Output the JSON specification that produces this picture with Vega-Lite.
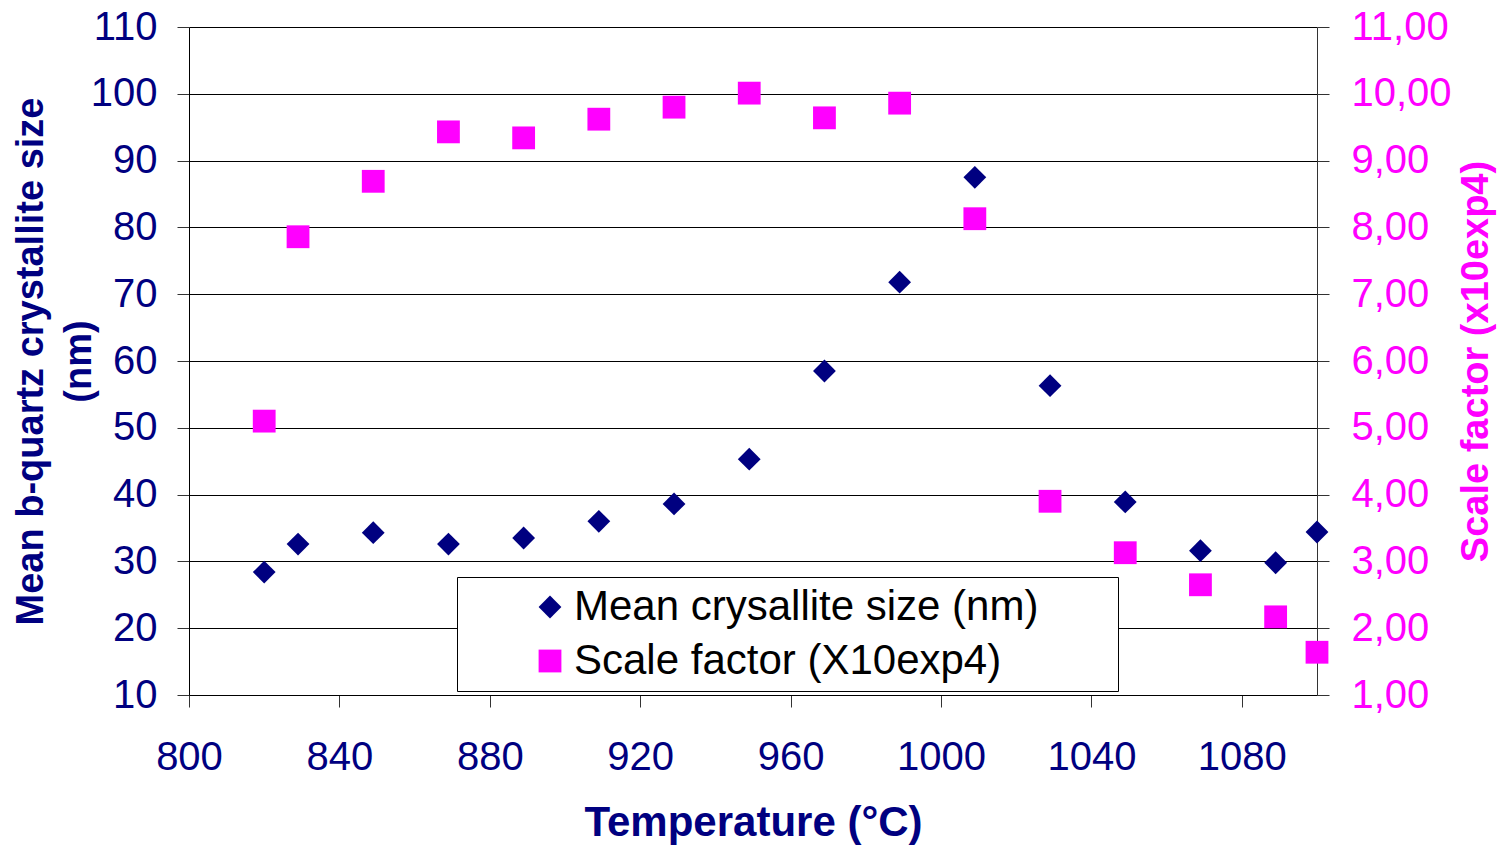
{
  "$schema": "https://vega.github.io/schema/vega-lite/v6.json",
  "width": 1128,
  "height": 668,
  "autosize": {"type": "none"},
  "padding": {"left": 189, "top": 27, "right": 184, "bottom": 152},
  "background": "white",
  "config": {
    "view": {"stroke": null},
    "font": "Liberation Sans",
    "axis": {"labelFont": "Liberation Sans", "titleFont": "Liberation Sans"},
    "legend": {
      "orient": "none",
      "legendX": 268,
      "legendY": 550,
      "fillColor": "white",
      "strokeColor": "black",
      "padding": 9,
      "symbolOffset": 63,
      "labelOffset": 3,
      "labelFontSize": 42,
      "labelFont": "Liberation Sans",
      "labelColor": "black",
      "labelLimit": 1000,
      "symbolSize": 520,
      "symbolStrokeWidth": 0,
      "rowPadding": 12
    }
  },
  "data": {
    "values": [
      {"temp": 820, "series": "Mean crysallite size (nm)", "value": 28.4},
      {"temp": 829, "series": "Mean crysallite size (nm)", "value": 32.6},
      {"temp": 849, "series": "Mean crysallite size (nm)", "value": 34.3},
      {"temp": 869, "series": "Mean crysallite size (nm)", "value": 32.6},
      {"temp": 889, "series": "Mean crysallite size (nm)", "value": 33.5},
      {"temp": 909, "series": "Mean crysallite size (nm)", "value": 36.0},
      {"temp": 929, "series": "Mean crysallite size (nm)", "value": 38.6},
      {"temp": 949, "series": "Mean crysallite size (nm)", "value": 45.3},
      {"temp": 969, "series": "Mean crysallite size (nm)", "value": 58.5},
      {"temp": 989, "series": "Mean crysallite size (nm)", "value": 71.8},
      {"temp": 1009, "series": "Mean crysallite size (nm)", "value": 87.5},
      {"temp": 1029, "series": "Mean crysallite size (nm)", "value": 56.3},
      {"temp": 1049, "series": "Mean crysallite size (nm)", "value": 38.9},
      {"temp": 1069, "series": "Mean crysallite size (nm)", "value": 31.6},
      {"temp": 1089, "series": "Mean crysallite size (nm)", "value": 29.8},
      {"temp": 1100, "series": "Mean crysallite size (nm)", "value": 34.4},
      {"temp": 820, "series": "Scale factor (X10exp4)", "value": 5.10},
      {"temp": 829, "series": "Scale factor (X10exp4)", "value": 7.86},
      {"temp": 849, "series": "Scale factor (X10exp4)", "value": 8.69},
      {"temp": 869, "series": "Scale factor (X10exp4)", "value": 9.43},
      {"temp": 889, "series": "Scale factor (X10exp4)", "value": 9.34},
      {"temp": 909, "series": "Scale factor (X10exp4)", "value": 9.62},
      {"temp": 929, "series": "Scale factor (X10exp4)", "value": 9.80},
      {"temp": 949, "series": "Scale factor (X10exp4)", "value": 10.01},
      {"temp": 969, "series": "Scale factor (X10exp4)", "value": 9.64},
      {"temp": 989, "series": "Scale factor (X10exp4)", "value": 9.86},
      {"temp": 1009, "series": "Scale factor (X10exp4)", "value": 8.13},
      {"temp": 1029, "series": "Scale factor (X10exp4)", "value": 3.90},
      {"temp": 1049, "series": "Scale factor (X10exp4)", "value": 3.13},
      {"temp": 1069, "series": "Scale factor (X10exp4)", "value": 2.65},
      {"temp": 1089, "series": "Scale factor (X10exp4)", "value": 2.17},
      {"temp": 1100, "series": "Scale factor (X10exp4)", "value": 1.64}
    ]
  },
  "encoding": {
    "x": {
      "field": "temp",
      "type": "quantitative",
      "scale": {"domain": [800, 1100], "nice": false, "zero": false},
      "axis": {
        "title": "Temperature (°C)",
        "values": [800, 840, 880, 920, 960, 1000, 1040, 1080],
        "format": "d",
        "grid": false,
        "domainColor": "black",
        "domainWidth": 1,
        "tickColor": "#333333",
        "tickSize": 12,
        "labelFontSize": 40,
        "labelColor": "#000080",
        "labelPadding": 30,
        "labelFlush": false,
        "titleFontSize": 42,
        "titleFontWeight": "bold",
        "titleColor": "#000080",
        "titlePadding": 25
      }
    },
    "color": {
      "field": "series",
      "type": "nominal",
      "scale": {"domain": ["Mean crysallite size (nm)", "Scale factor (X10exp4)"], "range": ["#000080", "#FF00FF"]},
      "legend": {"title": null, "labelExpr": "datum.label + '\u00a0\u00a0\u00a0\u00a0\u00a0\u00a0\u200b'"}
    },
    "shape": {
      "field": "series",
      "type": "nominal",
      "scale": {"domain": ["Mean crysallite size (nm)", "Scale factor (X10exp4)"], "range": ["diamond", "square"]},
      "legend": {"title": null, "labelExpr": "datum.label + '\u00a0\u00a0\u00a0\u00a0\u00a0\u00a0\u200b'"}
    }
  },
  "layer": [
    {
      "transform": [{"filter": "datum.series == 'Mean crysallite size (nm)'"}],
      "mark": {"type": "point", "filled": true, "size": 520, "opacity": 1, "strokeWidth": 0},
      "encoding": {
        "y": {
          "field": "value",
          "type": "quantitative",
          "scale": {"domain": [10, 110], "nice": false, "zero": false},
          "axis": {
            "orient": "left",
            "title": ["Mean b-quartz crystallite size", "(nm)"],
            "values": [10, 20, 30, 40, 50, 60, 70, 80, 90, 100, 110],
            "grid": true,
            "gridColor": "black",
            "gridWidth": 1,
            "domainColor": "black",
            "tickColor": "#333333",
            "tickSize": 12,
            "labelFontSize": 40,
            "labelColor": "#000080",
            "labelPadding": 20,
            "labelFlush": false,
            "titleFontSize": 38,
            "titleFontWeight": "bold",
            "titleColor": "#000080",
            "titleLineHeight": 48,
            "titlePadding": -8
          }
        }
      }
    },
    {
      "transform": [{"filter": "datum.series == 'Scale factor (X10exp4)'"}],
      "mark": {"type": "point", "filled": true, "size": 520, "opacity": 1, "strokeWidth": 0},
      "encoding": {
        "y": {
          "field": "value",
          "type": "quantitative",
          "scale": {"domain": [1, 11], "nice": false, "zero": false},
          "axis": {
            "orient": "right",
            "title": "Scale factor (x10exp4)",
            "values": [1, 2, 3, 4, 5, 6, 7, 8, 9, 10, 11],
            "labelExpr": "replace(format(datum.value, '.2f'), '.', ',')",
            "grid": false,
            "domainColor": "#333333",
            "tickColor": "#333333",
            "tickSize": 12,
            "labelFontSize": 40,
            "labelColor": "#FF00FF",
            "labelPadding": 22,
            "labelFlush": false,
            "titleFontSize": 38,
            "titleFontWeight": "bold",
            "titleColor": "#FF00FF",
            "titleAngle": 270,
            "titleBaseline": "top",
            "titlePadding": 6
          }
        }
      }
    }
  ],
  "resolve": {"scale": {"y": "independent"}}
}
